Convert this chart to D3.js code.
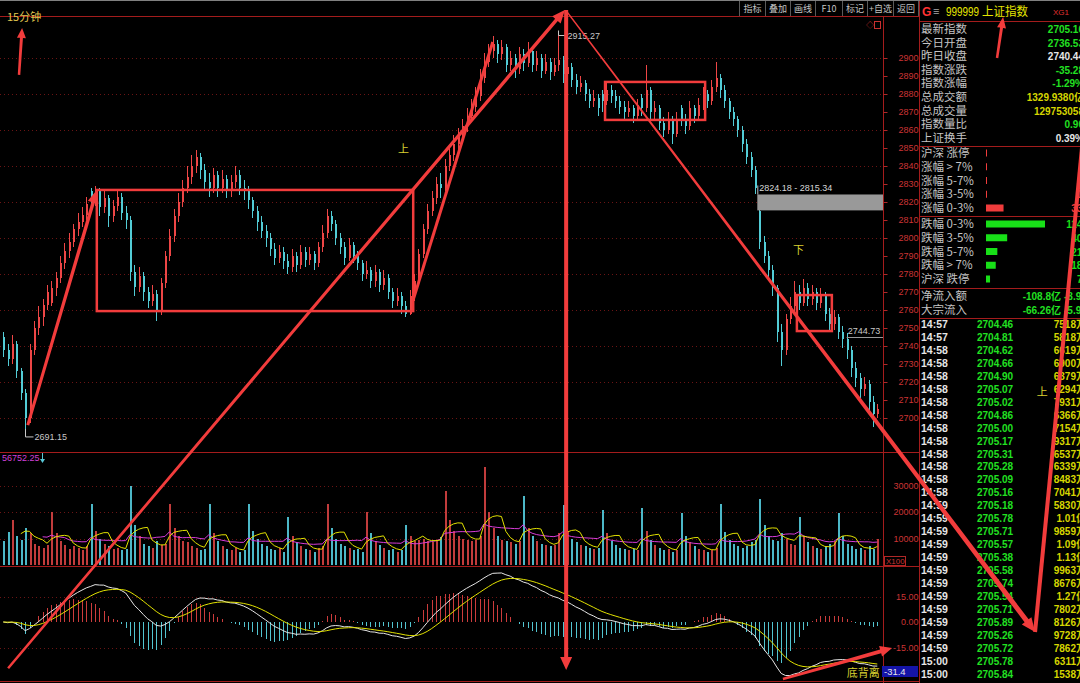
<!DOCTYPE html>
<html><head><meta charset="utf-8">
<script src="https://cdn.jsdelivr.net/npm/d3@7/dist/d3.min.js"></script>
<style>html,body{margin:0;padding:0;background:#000;overflow:hidden}svg{display:block}</style>
</head><body>
<svg id="chart" width="1080" height="683"></svg>
<script>
// ---------------- DATA ----------------
const chartTitle = '15分钟';
const opens = [2745,2738,2733,2741,2726,2714,2700,2738,2750,2756,
2763,2764,2772,2778,2786,2793,2798,2805,2809,2813,
2826,2820,2827,2817,2822,2812,2818,2823,2814,2810,
2781,2773,2779,2770,2765,2769,2759,2775,2790,2801,
2812,2820,2828,2834,2840,2845,2838,2831,2828,2835,
2828,2833,2826,2831,2835,2828,2826,2821,2815,2809,
2804,2800,2794,2789,2792,2787,2784,2790,2785,2792,
2788,2791,2786,2795,2803,2812,2808,2800,2795,2789,
2796,2790,2786,2780,2782,2776,2781,2774,2778,2770,
2765,2768,2762,2758,2768,2776,2791,2805,2815,2822,
2830,2828,2840,2846,2852,2857,2862,2868,2873,2879,
2889,2898,2904,2908,2902,2906,2896,2900,2894,2902,
2897,2904,2896,2900,2893,2898,2892,2896,2899,2891,
2895,2888,2884,2886,2880,2876,2878,2880,2876,2882,
2879,2876,2873,2870,2872,2868,2878,2872,2882,2870,
2872,2864,2860,2866,2858,2872,2866,2862,2872,2868,
2874,2880,2876,2884,2889,2882,2876,2870,2866,2860,
2852,2845,2838,2815,2798,2790,2782,2772,2748,2738,
2755,2762,2770,2764,2772,2766,2770,2764,2768,2758,
2752,2756,2748,2744,2738,2728,2722,2716,2719,2709,
2702];
const highs = [2748,2741,2746,2743,2728,2716,2741,2754,2762,2766,
2774,2776,2781,2790,2797,2803,2808,2814,2817,2823,
2828,2829,2828,2826,2824,2821,2827,2825,2818,2812,
2785,2784,2781,2773,2774,2771,2778,2793,2805,2816,
2825,2832,2840,2846,2849,2847,2841,2836,2839,2837,
2838,2835,2835,2840,2838,2832,2829,2823,2818,2812,
2807,2803,2797,2796,2795,2791,2794,2792,2796,2795,
2795,2793,2798,2807,2816,2815,2810,2803,2798,2800,
2798,2793,2788,2787,2784,2785,2783,2782,2780,2772,
2772,2770,2765,2771,2780,2794,2808,2819,2826,2834,
2836,2844,2850,2857,2861,2866,2872,2877,2884,2894,
2903,2908,2912,2910,2910,2908,2904,2902,2906,2905,
2909,2906,2904,2902,2902,2900,2900,2915.27,2901,2899,
2897,2891,2890,2888,2883,2882,2880,2882,2886,2885,
2882,2879,2876,2876,2874,2877,2880,2896,2884,2876,
2874,2867,2870,2868,2870,2874,2869,2876,2874,2878,
2884,2882,2888,2898,2891,2885,2878,2873,2868,2862,
2855,2848,2840,2815.34,2801,2793,2785,2774,2752,2758,
2767,2776,2774,2777,2775,2774,2772,2772,2770,2761,
2760,2758,2751,2747,2740,2731,2725,2723,2721,2712,
2708];
const lows = [2734,2729,2730,2722,2710,2691.15,2697,2735,2746,2751,
2760,2762,2768,2775,2783,2789,2795,2801,2806,2810,
2815,2818,2812,2814,2806,2809,2815,2810,2805,2776,
2768,2770,2765,2761,2762,2754,2757,2772,2787,2798,
2809,2817,2825,2830,2836,2833,2827,2823,2825,2823,
2825,2822,2823,2828,2824,2821,2816,2811,2804,2800,
2795,2790,2785,2786,2783,2780,2781,2781,2783,2784,
2785,2782,2784,2792,2800,2804,2796,2791,2785,2787,
2786,2782,2776,2777,2772,2773,2770,2771,2766,2761,
2762,2758,2756,2757,2765,2774,2789,2802,2812,2819,
2822,2826,2837,2843,2849,2853,2859,2865,2870,2876,
2886,2895,2900,2897,2899,2892,2893,2889,2891,2893,
2895,2892,2893,2889,2891,2888,2890,2893,2886,2888,
2884,2880,2881,2876,2872,2873,2868,2870,2874,2875,
2872,2869,2866,2867,2864,2866,2868,2870,2866,2865,
2860,2856,2858,2852,2856,2862,2858,2860,2864,2865,
2871,2872,2874,2881,2878,2872,2866,2862,2856,2848,
2841,2834,2824.18,2794,2786,2778,2768,2742,2729,2735,
2752,2759,2760,2762,2762,2763,2760,2761,2754,2748,
2749,2744,2739,2733,2723,2717,2711,2712,2704,2695,
2700];
const closes = [2738,2733,2741,2726,2714,2700,2738,2750,2756,2763,
2770,2772,2778,2786,2793,2798,2805,2809,2813,2819,
2820,2827,2817,2822,2812,2818,2823,2814,2810,2781,
2773,2779,2770,2765,2769,2759,2775,2790,2801,2812,
2820,2828,2834,2840,2845,2838,2831,2828,2835,2828,
2833,2826,2831,2835,2828,2826,2821,2815,2809,2804,
2800,2794,2789,2792,2787,2784,2790,2785,2792,2788,
2791,2786,2795,2803,2812,2808,2800,2795,2789,2796,
2790,2786,2780,2782,2776,2781,2774,2778,2770,2765,
2768,2762,2758,2768,2776,2791,2805,2815,2822,2830,
2828,2840,2846,2852,2857,2862,2868,2873,2879,2889,
2898,2904,2908,2902,2906,2896,2900,2894,2902,2897,
2904,2896,2900,2893,2898,2892,2896,2899,2891,2895,
2888,2884,2886,2880,2876,2878,2872,2876,2882,2879,
2876,2873,2870,2872,2868,2874,2872,2882,2870,2872,
2864,2860,2866,2858,2866,2866,2862,2872,2868,2874,
2880,2876,2884,2889,2882,2876,2870,2866,2860,2852,
2845,2838,2828,2798,2790,2782,2772,2748,2738,2755,
2762,2770,2764,2772,2766,2770,2764,2768,2758,2752,
2756,2748,2744,2738,2728,2722,2716,2719,2709,2702,
2705.16];
const volumes = [9000,12500,
17000,11000,9500,14000,12000,8000,7000,6500,7500,
20000,12000,9000,7500,6000,7000,6500,5500,7000,
23000,13000,10000,8000,7000,6000,6500,5500,6000,
30000,15000,11000,8000,7000,6500,9000,7500,8000,
23000,14000,11000,9000,8500,7000,6500,5500,6000,
23000,12000,9000,7000,6000,5500,6500,5000,5500,
23000,13000,10000,8000,7000,6000,5500,6500,5000,
18000,11000,8500,7000,6000,5500,5000,6500,7000,
23000,14000,10000,8000,7000,6500,5500,6000,5000,
20000,12000,9000,7500,6500,5500,6000,5000,5500,
15000,11000,9000,9500,10000,9000,8500,9000,10500,
28000,17000,13000,11000,10000,9500,9000,9500,11000,
37000,20000,14000,11000,9500,9000,8500,8000,9000,
26000,14000,11000,9000,8000,7500,7000,7500,12000,
22600,13000,10000,8500,7500,7000,6500,6000,6500,
20700,12000,9000,7500,6500,6000,5500,6000,5500,
21500,13000,9500,7500,6500,5500,6000,5000,5500,
19500,11000,8500,7000,6000,5500,5000,5500,6500,
23000,12500,9500,8000,7000,6500,7000,8500,9500,
25000,15000,11000,9500,9000,12000,10000,8000,7500,
18000,11000,8500,7000,6500,6000,7000,8000,9000,
19500,11000,8000,7000,6000,6500,5500,7000,6000,10000];

const priceTicks = [2900,2890,2880,2870,2860,2850,2840,2830,2820,2810,2800,2790,2780,2770,2760,2750,2740,2730,2720,2710,2700];
const volumeTicks = [30000,20000,10000];
const macdTicks = [15,0,-15];
const macdFloorLabel = '-31.4';
const volumeHeadLabel = '56752.25';
const extremeMarks = [[5, 2691.15], [127, 2915.27]];   // [bar index, price]
const markedPrice = [193, 2744.73];                      // [bar index, price]
const gapZone = [173, 2824.18, 2815.34];                 // [first bar after gap, top, bottom]
const toolbarButtons = ['指标','叠加','画线','F10','标记','+自选','返回'];
const stockCode = '999999', stockName = '上证指数';
const quoteLabels = ['最新指数','今日开盘','昨日收盘','指数涨跌','指数涨幅','总成交额','总成交量','指数量比','上证换手'];
const quoteValues = ['2705.16','2736.53','2740.44','-35.28','-1.29%','1329.9380亿','129753058','0.90','0.39%'];
const breadthLabels = ['沪深 涨停','涨幅 > 7%','涨幅 5-7%','涨幅 3-5%','涨幅 0-3%','跌幅 0-3%','跌幅 3-5%','跌幅 5-7%','跌幅 > 7%','沪深 跌停'];
const breadthCounts = [3,5,8,12,339,1140,409,219,188,78];
const flowLabels = ['净流入额','大宗流入'];
const flowValues = ['-108.8亿','-66.26亿'];
const flowPcts = ['-8.96%','-5.91%'];
const tradeTimes = ['14:57','14:57','14:58','14:58','14:58','14:58','14:58','14:58','14:58','14:58','14:58','14:58','14:58','14:58','14:59','14:59','14:59','14:59','14:59','14:59','14:59','14:59','14:59','14:59','14:59','14:59','15:00','15:00'];
const tradePrices = [2704.46,2704.81,2704.62,2704.66,2704.90,2705.07,2705.02,2704.86,2705.00,2705.17,2705.31,2705.28,2705.09,2705.16,2705.18,2705.78,2705.71,2705.57,2705.38,2705.58,2705.74,2705.54,2705.71,2705.89,2705.26,2705.72,2705.78,2705.84];
const tradeVols = ['7518万','5818万','6619万','6900万','6379万','6294万','7931万','6366万','7154万','9317万','6537万','6339万','8483万','7041万','5830万','1.01亿','9859万','1.09亿','1.13亿','9963万','8676万','1.27亿','7802万','8126万','9728万','7862万','6311万','1538万'];
// hand-drawn annotation anchors in chart coordinates [bar index, price]
const drawnArrows = [
  [[3.6,2890.6],[4.3,2916.7]],
  [[5.6,2696.0],[21.4,2826.7]],
  [[1.1,2561.0],[128.5,2926.7]],
  [[128.8,2926.7],[128.8,2560.0]],
  [[129.0,2925.6],[236.1,2581.1]],
  [[227.4,2900.0],[228.8,2922.8]],
  [[178.4,2555.0],[203.4,2572.2]]
];
const drawnLines = [
  [[93.8,2765.6],[112.0,2908.9]],
  [[236.1,2581.1],[247.5,2866.7]]
];
const drawnBoxes = [
  [[21.4,2826.7],[93.8,2759.4]],
  [[137.7,2886.7],[160.6,2865.6]],
  [[181.6,2768.3],[189.6,2748.3]]
];
const drawnNotes = [['上',90.3,2847],['下',180.7,2791],['底背离',193.0,2556],['上',236.5,2712]];

// ---------------- DRAW ----------------
const FN = "'Liberation Sans','Noto Sans CJK SC',sans-serif";
const CJK = "'Noto Sans CJK SC','Liberation Sans',sans-serif";
const LINE = '#a41c1c', ANN = '#f23c3c';
const UP = '#ee4646', DN = '#52ccd6', VUP = '#c23c3c', VDN = '#4cb8c8';
const svg = d3.select('#chart');
svg.append('rect').attr('width',1080).attr('height',683).attr('fill','#000');

const N = closes.length;
const x = d3.scaleLinear().domain([0, N-1]).range([3.3, 3.3 + 4.37*(N-1)]);
const yP = d3.scaleLinear().domain([2700, 2900]).range([418, 58]);
const yV = d3.scaleLinear().domain([0, 30000]).range([565, 485.5]);
const yM = d3.scaleLinear().domain([-15, 15]).range([647.5, 596.5]);
const cx = i => Math.round(x(i));

function T(g, tx, ty, s, size, fill, o = {}) {
  const t = g.append('text').attr('x', tx).attr('y', ty).text(s).attr('fill', fill)
    .style('font-size', size + 'px').style('font-family', o.ff || FN);
  if (o.bold) t.style('font-weight', 'bold');
  if (o.anchor) t.attr('text-anchor', o.anchor);
  if (o.len) t.attr('textLength', o.len).attr('lengthAdjust', 'spacingAndGlyphs');
  return t;
}

// grid
const grid = svg.append('g').attr('stroke', '#6a1414').attr('stroke-dasharray', '1,3').attr('shape-rendering', 'crispEdges');
const hl = (g, y, x1, x2) => g.append('line').attr('x1', x1).attr('x2', x2).attr('y1', Math.round(y) + 0.5).attr('y2', Math.round(y) + 0.5);
priceTicks.filter(t => t % 20 === 0).forEach(t => hl(grid, yP(t), 0, 883));
volumeTicks.forEach(t => hl(grid, yV(t), 0, 883));
macdTicks.filter(t => t !== 0).forEach(t => hl(grid, yM(t), 0, 883));

// panel frame lines
const fr = svg.append('g').attr('stroke', LINE).attr('shape-rendering', 'crispEdges');
[[16.5,0,919],[452.5,0,919],[566.5,0,919],[681.5,0,919],[21.5,919,1080],[146.5,919,1080],[216.5,919,1080],[288.5,919,1080],[318.5,919,1080]]
  .forEach(([y, a, b]) => fr.append('line').attr('x1', a).attr('x2', b).attr('y1', y).attr('y2', y));
fr.append('line').attr('x1', 883.5).attr('x2', 883.5).attr('y1', 16).attr('y2', 683);
fr.append('line').attr('x1', 919.5).attr('x2', 919.5).attr('y1', 0).attr('y2', 683);
svg.append('line').attr('x1', 0).attr('x2', 1080).attr('y1', 0.5).attr('y2', 0.5).attr('stroke', '#808080');

// candles
const bars = d3.range(N).map(i => ({ i, o: opens[i], h: highs[i], l: lows[i], c: closes[i], v: volumes[i], up: closes[i] >= opens[i] }));
const cg = svg.append('g').attr('shape-rendering', 'crispEdges');
cg.selectAll('line.wick').data(bars).join('line').attr('class', 'wick')
  .attr('x1', d => cx(d.i) + 0.5).attr('x2', d => cx(d.i) + 0.5)
  .attr('y1', d => yP(d.h)).attr('y2', d => yP(d.l)).attr('stroke', d => d.up ? UP : DN);
cg.selectAll('rect.body').data(bars).join('rect').attr('class', 'body')
  .attr('x', d => cx(d.i)).attr('width', 2)
  .attr('y', d => yP(Math.max(d.o, d.c))).attr('height', d => Math.max(1, Math.abs(yP(d.o) - yP(d.c))))
  .attr('fill', d => d.up ? UP : DN);

// volume
const vg = svg.append('g');
vg.selectAll('rect.vol').data(bars).join('rect').attr('class', 'vol').attr('shape-rendering', 'crispEdges')
  .attr('x', d => cx(d.i)).attr('width', 2)
  .attr('y', d => yV(d.v)).attr('height', d => yV(0) - yV(d.v)).attr('fill', d => d.up ? VUP : VDN);
function sma(a, n) { return a.map((v, i) => i < n - 1 ? null : d3.mean(a.slice(i - n + 1, i + 1))); }
function ema(a, n) { const k = 2 / (n + 1); const o = []; a.forEach((v, i) => o.push(i ? o[i - 1] + k * (v - o[i - 1]) : v)); return o; }
const lineV = d3.line().defined(d => d[1] != null).x(d => x(d[0])).y(d => yV(d[1]));
vg.append('path').attr('d', lineV(sma(volumes, 10).map((v, i) => [i, v]))).attr('fill', 'none').attr('stroke', '#d83cd8');
vg.append('path').attr('d', lineV(sma(volumes, 5).map((v, i) => [i, v]))).attr('fill', 'none').attr('stroke', '#e2e200');

// MACD
const e12 = ema(closes, 12), e26 = ema(closes, 26);
const dif = closes.map((_, i) => e12[i] - e26[i]);
const dea = ema(dif, 9);
const hist = dif.map((d, i) => 2 * (d - dea[i]));
const mg = svg.append('g');
mg.selectAll('line.h').data(hist).join('line').attr('class', 'h').attr('shape-rendering', 'crispEdges')
  .attr('x1', (d, i) => cx(i) + 0.5).attr('x2', (d, i) => cx(i) + 0.5)
  .attr('y1', yM(0)).attr('y2', d => yM(d)).attr('stroke', d => d >= 0 ? '#cc3c3c' : '#52c4d0');
const lineM = d3.line().x((d, i) => x(i)).y(d => yM(d));
mg.append('path').attr('d', lineM(dif)).attr('fill', 'none').attr('stroke', '#e6e6e6');
mg.append('path').attr('d', lineM(dea)).attr('fill', 'none').attr('stroke', '#e2e200');

// axes
function styleAxis(g) {
  g.select('.domain').remove();
  g.selectAll('line').attr('stroke', '#b02828');
  g.selectAll('text').attr('x', 35).attr('text-anchor', 'end').attr('fill', '#cc3434')
    .style('font-size', '9px').style('font-family', FN);
}
svg.append('g').attr('transform', 'translate(883.5,0)')
  .call(d3.axisRight(yP).tickValues(priceTicks).tickSize(4).tickFormat(d3.format('d'))).call(styleAxis);
svg.append('g').attr('transform', 'translate(883.5,0)')
  .call(d3.axisRight(yV).tickValues(volumeTicks).tickSize(0).tickFormat(d3.format('d'))).call(styleAxis);
svg.append('g').attr('transform', 'translate(883.5,0)')
  .call(d3.axisRight(yM).tickValues(macdTicks).tickSize(0).tickFormat(d => d.toFixed(2))).call(styleAxis);
svg.append('rect').attr('x', 884.5).attr('y', 556.5).attr('width', 21).attr('height', 9).attr('fill', 'none').attr('stroke', '#b02828');
T(svg, 886, 564, 'X100', 8, '#cc3434');
svg.append('rect').attr('x', 882).attr('y', 666).attr('width', 36).attr('height', 11).attr('fill', '#1414a8');
T(svg, 884, 675, macdFloorLabel, 9.5, '#e8e8e8');

// toolbar
const seps = [739, 765, 790, 815, 842, 867, 893, 918];
seps.forEach(s => svg.append('line').attr('x1', s + 0.5).attr('x2', s + 0.5).attr('y1', 1).attr('y2', 16).attr('stroke', '#5a5a5a'));
toolbarButtons.forEach((b, k) => T(svg, (seps[k] + seps[k + 1]) / 2 + 0.5, 12, b, 9, '#c4c4c4', { anchor: 'middle', ff: CJK }));
T(svg, 7, 21, chartTitle, 11, '#e2c850', { ff: CJK });
T(svg, 866, 28, '◇', 8, '#c83030');
svg.append('rect').attr('x', 874.5).attr('y', 21.5).attr('width', 6).attr('height', 7).attr('fill', 'none').attr('stroke', '#c83030');

// price panel labels
const lg = svg.append('g');
extremeMarks.forEach(([i, p], k) => {
  const px = cx(i) + 0.5, py = yP(p);
  const yy = k === 0 ? py + 3 : py + 5;
  lg.append('path').attr('d', `M${px},${k === 0 ? py - 5 : py}V${yy}H${px + 8}`).attr('stroke', '#c8c8c8').attr('fill', 'none');
  T(lg, px + 9, yy + 3.5, p.toFixed(2), 9, '#c8c8c8');
});
T(lg, x(markedPrice[0]) + 1, yP(markedPrice[1]) - 3, markedPrice[1].toFixed(2), 9, '#c8c8c8');
lg.append('line').attr('x1', x(markedPrice[0])).attr('x2', 883).attr('y1', Math.round(yP(markedPrice[1])) + 0.5).attr('y2', Math.round(yP(markedPrice[1])) + 0.5).attr('stroke', '#9a9a9a');
const gx = x(gapZone[0]) - 2;
lg.append('rect').attr('x', gx).attr('y', yP(gapZone[1])).attr('width', 883 - gx).attr('height', yP(gapZone[2]) - yP(gapZone[1])).attr('fill', '#999');
lg.append('line').attr('x1', gx + 0.5).attr('x2', gx + 0.5).attr('y1', yP(gapZone[1]) - 9).attr('y2', yP(gapZone[1])).attr('stroke', '#bbb');
T(lg, gx + 2, yP(gapZone[1]) - 3, gapZone[1].toFixed(2) + ' - ' + gapZone[2].toFixed(2), 9, '#d8d8d8');
T(lg, 2, 461, volumeHeadLabel, 9, '#d040d8');
lg.append('line').attr('x1', 42.5).attr('x2', 42.5).attr('y1', 453).attr('y2', 461).attr('stroke', '#58c8d8');
lg.append('path').attr('d', 'M40,459L45,459L42.5,463Z').attr('fill', '#58c8d8');

// info panel
const ip = svg.append('g');
T(ip, 922, 16, 'G', 12, '#ff3232', { bold: true });
T(ip, 933, 15, '≡', 11, '#a8a8a8');
T(ip, 946, 16, stockCode, 13, '#e6e600', { len: 33 });
T(ip, 982, 16, stockName, 12, '#e6e600', { ff: CJK, len: 46 });
T(ip, 1053, 15, 'XG1', 8, '#e03030');
const QC = ['#22e022', '#22e022', '#e6e6e6', '#22e022', '#22e022', '#d6d600', '#d6d600', '#22e022', '#e6e6e6'];
quoteLabels.forEach((l, k) => {
  const y = 33 + 13.6 * k;
  T(ip, 921, y, l, 11.5, '#c4c4c4', { ff: CJK });
  T(ip, 1084, y, quoteValues[k], 10, QC[k], { bold: true, anchor: 'end' });
});
const bScale = d3.scaleLinear().domain([0, 1140]).range([0, 59]);
breadthLabels.forEach((l, k) => {
  const cy = k < 5 ? 153 + 13.75 * k : 224 + 13.75 * (k - 5);
  T(ip, 921, cy + 4, l, 11.5, '#c4c4c4', { ff: CJK });
  const col = k < 5 ? '#f03c3c' : '#18e018';
  ip.append('rect').attr('x', 986).attr('y', cy - 3.5).attr('width', Math.max(1, bScale(breadthCounts[k]))).attr('height', 7).attr('fill', col);
  T(ip, 1088, cy + 4, String(breadthCounts[k]), 10, col, { bold: true, anchor: 'end' });
});
flowLabels.forEach((l, k) => {
  const cy = 296 + 13.5 * k;
  T(ip, 921, cy + 4, l, 11.5, '#c4c4c4', { ff: CJK });
  T(ip, 1061, cy + 4, flowValues[k], 10, '#22e022', { bold: true, anchor: 'end' });
  T(ip, 1064, cy + 4, flowPcts[k], 10, '#22e022', { bold: true });
});
tradeTimes.forEach((t, k) => {
  const y = 328 + 12.95 * k;
  T(ip, 921, y, t, 10.5, '#e6e6e6', { bold: true });
  T(ip, 977, y, tradePrices[k].toFixed(2), 10, '#22e022', { bold: true });
  T(ip, 1086, y, tradeVols[k], 10, '#d6d600', { bold: true, anchor: 'end' });
});

// hand-drawn annotations
const ag = svg.append('g').attr('fill', ANN);
function shape(p1, p2, w1, w2, head) {
  const dx = p2[0] - p1[0], dy = p2[1] - p1[1], L = Math.hypot(dx, dy), ux = dx / L, uy = dy / L, nx = -uy, ny = ux;
  const hlen = head ? head[0] : 0, hw = head ? head[1] : 0;
  const bx = p2[0] - ux * hlen, by = p2[1] - uy * hlen;
  const pts = [[p1[0] + nx * w1 / 2, p1[1] + ny * w1 / 2], [bx + nx * w2 / 2, by + ny * w2 / 2]];
  if (head) pts.push([bx + nx * hw / 2, by + ny * hw / 2], [p2[0], p2[1]], [bx - nx * hw / 2, by - ny * hw / 2]);
  pts.push([bx - nx * w2 / 2, by - ny * w2 / 2], [p1[0] - nx * w1 / 2, p1[1] - ny * w1 / 2]);
  return 'M' + pts.map(p => p.join(',')).join('L') + 'Z';
}
const P = a => [x(a[0]), yP(a[1])];
const arrowW = [[2.5, 3, 10, 9], [3, 3.5, 13, 11], [2.5, 3.5, 13, 11], [4, 4, 13, 12], [1.5, 5, 14, 12], [2.5, 3, 11, 9], [2.5, 4, 12, 11]];
drawnArrows.forEach((a, k) => {
  const w = arrowW[k];
  ag.append('path').attr('d', shape(P(a[0]), P(a[1]), w[0], w[1], [w[2], w[3]]));
});
const lineW = [[3, 3], [4, 4]];
drawnLines.forEach((a, k) => ag.append('path').attr('d', shape(P(a[0]), P(a[1]), lineW[k][0], lineW[k][1], null)));
drawnBoxes.forEach(b => {
  const p1 = P(b[0]), p2 = P(b[1]);
  ag.append('rect').attr('x', p1[0]).attr('y', p1[1]).attr('width', p2[0] - p1[0]).attr('height', p2[1] - p1[1])
    .attr('fill', 'none').attr('stroke', ANN).attr('stroke-width', 2.5);
});
drawnNotes.forEach(([s, i, p]) => T(svg, x(i), yP(p), s, 11, '#d8d030', { ff: CJK }));
</script>
</body></html>
